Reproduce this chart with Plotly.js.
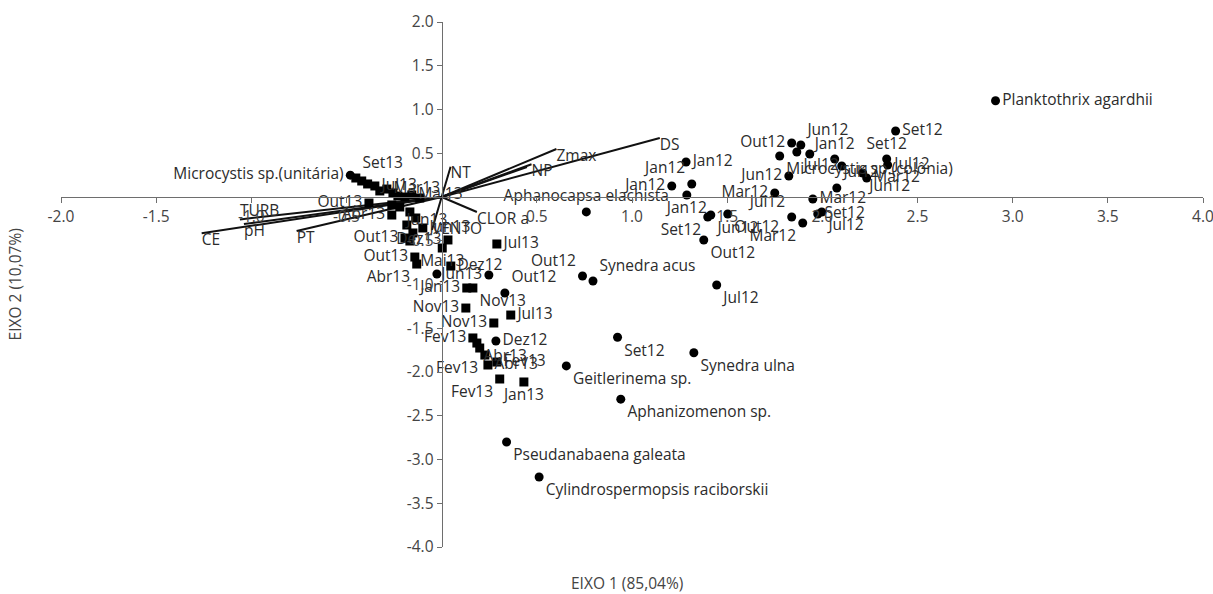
<!DOCTYPE html>
<html>
<head>
<meta charset="utf-8">
<script src="https://cdn.plot.ly/plotly-3.0.1.min.js"></script>
<style>html,body{margin:0;padding:0;background:#fff;}#chart{width:1213px;height:594px;}</style>
</head>
<body>
<div id="chart"></div>
<script>
// ---- Axis ticks ----
const xTickVals = [-2.0,-1.5,-1.0,-0.5,0.5,1.0,1.5,2.0,2.5,3.0,3.5,4.0];
const xTickText = ["-2.0","-1.5","-1.0","-0.5","0.5","1.0","1.5","2.0","2.5","3.0","3.5","4.0"];
const yTickVals = [2.0,1.5,1.0,0.5,-0.5,-1.0,-1.5,-2.0,-2.5,-3.0,-3.5,-4.0];
const yTickText = ["2.0","1.5","1.0","0.5","-0.5","-1.0","-1.5","-2.0","-2.5","-3.0","-3.5","-4.0"];

// ---- Species (circles) ----
const speciesNames = ["Planktothrix agardhii","Microcystis sp.(unitária)","Microcystis sp.(colônia)","Aphanocapsa elachista","Synedra acus","Synedra ulna","Geitlerinema sp.","Aphanizomenon sp.","Pseudanabaena galeata","Cylindrospermopsis raciborskii"];
const speciesX = [2.91,-0.48,1.776,0.76,0.795,1.325,0.655,0.941,0.341,0.512];
const speciesY = [1.10,0.25,0.469,-0.17,-0.96,-1.78,-1.93,-2.31,-2.80,-3.20];
const speciesPos = ["middle right","middle left","bottom right","top center","top right","bottom right","bottom right","bottom right","bottom right","bottom right"];

// ---- Samples 2012 (circles) ----
const s12Labels = ["Set12","Jul12","Out12","Out12","Dez12","Jun13","",
  "Jan12","Jan12","Jan12","Jan12","Set12","Jun12","Out12","Out12",
  "Out12","Jun12","Jul12","","Jun12","Mar12","Jul12","Mar12","Mar12","Set12","Jul12",
  "Jul12","Jan12","","Jun12","Mar12","Set12","Jul12","Set12"];
const s12X = [0.924,1.445,0.332,0.740,0.285,0.248,-0.025,
  1.284,1.209,1.314,1.288,1.398,1.414,1.503,1.377,
  1.839,1.887,1.866,1.934,1.824,1.750,1.839,1.897,1.950,1.976,1.997,
  2.076,2.065,2.102,2.212,2.233,2.338,2.343,2.385];
const s12Y = [-1.603,-1.006,-1.097,-0.903,-1.646,-0.891,-0.880,
  0.400,0.126,0.149,0.023,-0.229,-0.206,-0.194,-0.491,
  0.617,0.594,0.514,0.491,0.240,0.046,-0.229,-0.297,-0.023,-0.194,-0.171,
  0.103,0.434,0.354,0.274,0.217,0.434,0.366,0.754];
const s12Pos = ["bottom right","bottom right","top right","top left","middle right","middle left","middle right",
  "middle right","middle left","top left","bottom center","bottom left","bottom right","bottom right","bottom right",
  "middle left","top right","bottom right","middle right","middle left","middle left","top left","bottom left","middle right","middle right","bottom right",
  "top right","top center","middle right","bottom right","middle right","top center","middle right","middle right"];

// ---- Samples 2013 (squares) ----
const s13Labels = ["Set13","","","Jul13","","Mar13","","","","Mai13","",
  "","Jun13","Out13","Abr13","","","","","Out13","",
  "Jun13","Dez13","Mai13","Out13","Abr13","Dez12",
  "Jul13","Jan13","Nov13","Nov13","Nov13","Jul13",
  "Fev13","Abr13","","Fev13","Abr13","Fev13","Fev13","Jan13"];
const s13X = [-0.451,-0.420,-0.389,-0.351,-0.325,-0.288,-0.256,-0.230,-0.193,-0.157,-0.115,
  -0.262,-0.220,-0.382,-0.262,-0.167,-0.136,-0.183,-0.151,-0.193,-0.167,
  -0.099,0.033,0.003,-0.141,-0.131,0.048,
  0.290,0.132,0.164,0.127,0.274,0.363,
  0.164,0.185,0.200,0.227,0.243,0.290,0.305,0.432];
const s13Y = [0.217,0.183,0.149,0.126,0.069,0.091,0.046,0.011,0.000,0.023,-0.011,
  -0.091,-0.114,-0.069,-0.206,-0.171,-0.240,-0.320,-0.411,-0.469,-0.503,
  -0.354,-0.491,-0.583,-0.686,-0.766,-0.789,
  -0.537,-1.040,-1.040,-1.269,-1.440,-1.349,
  -1.611,-1.669,-1.726,-1.806,-1.920,-1.886,-2.080,-2.114];
const s13Pos = ["top right","middle right","middle right","middle right","middle right","middle right","middle right","middle right","middle right","middle right","middle right",
  "middle right","bottom right","middle left","middle left","middle right","middle right","middle right","middle right","middle left","middle right",
  "middle right","middle left","bottom center","middle left","bottom left","middle right",
  "middle right","middle left","bottom right","middle left","middle left","middle right",
  "middle left","bottom right","middle right","bottom left","middle right","middle right","bottom left","bottom center"];

// ---- Environmental vectors ----
const envNames = ["DS","Zmax","NP","","NT","CLOR a","VENTO","CE","TURB","pH","PT"];
const envX = [1.146,0.603,0.472,0.448,0.047,0.185,-0.051,-1.261,-1.060,-1.039,-0.762];
const envY = [0.674,0.549,0.374,0.343,0.346,-0.171,-0.377,-0.415,-0.256,-0.309,-0.389];
const envPos = ["bottom right","bottom right","bottom right","bottom right","bottom right","bottom right","middle right","bottom right","top right","bottom right","bottom right"];

const FONT = "Open Sans, Noto Sans, sans-serif";
const labelFont = {family: FONT, size: 15.5, color: "#2b2b2b"};
const traces = [];

// vectors
envNames.forEach((n, i) => {
  traces.push({x: [0, envX[i]], y: [0, envY[i]], mode: "lines", type: "scatter",
    line: {color: "#111", width: 2}, hoverinfo: "skip", showlegend: false});
});
traces.push({x: envX, y: envY, text: envNames, mode: "text", type: "scatter",
  textposition: envPos, textfont: labelFont, hoverinfo: "skip", showlegend: false});

// samples 2013
traces.push({x: s13X, y: s13Y, text: s13Labels, mode: "markers+text", type: "scatter",
  marker: {symbol: "square", size: 9, color: "#000"}, textposition: s13Pos,
  textfont: labelFont, showlegend: false});
// samples 2012
traces.push({x: s12X, y: s12Y, text: s12Labels, mode: "markers+text", type: "scatter",
  marker: {symbol: "circle", size: 9, color: "#000"}, textposition: s12Pos,
  textfont: labelFont, showlegend: false});
// species
traces.push({x: speciesX, y: speciesY, text: speciesNames, mode: "markers+text", type: "scatter",
  marker: {symbol: "circle", size: 9, color: "#000"}, textposition: speciesPos,
  textfont: labelFont, showlegend: false});

const axisCommon = {showgrid: false, zeroline: false, showline: true, linecolor: "#6e6e6e", linewidth: 1,
  ticks: "outside", ticklen: 5, tickcolor: "#6e6e6e", tickfont: {family: FONT, size: 15.5, color: "#444"},
  tickmode: "array", fixedrange: true, ticklabeloverflow: "allow"};

const layout = {
  width: 1213, height: 594,
  margin: {l: 61, r: 10, t: 22, b: 47},
  paper_bgcolor: "#fff", plot_bgcolor: "#fff",
  showlegend: false,
  xaxis: Object.assign({}, axisCommon, {range: [-2, 4], tickvals: xTickVals, ticktext: xTickText,
    anchor: "free", position: 2/3, domain: [0, 1]}),
  yaxis: Object.assign({}, axisCommon, {range: [-4, 2], tickvals: yTickVals, ticktext: yTickText,
    anchor: "free", position: 1/3, domain: [0, 1]}),
  annotations: [
    {text: "EIXO 1 (85,04%)", xref: "paper", yref: "paper", x: 0.4956, y: -0.0686,
     xanchor: "center", yanchor: "middle",
     showarrow: false, font: {family: FONT, size: 15.5, color: "#444"}},
    {text: "EIXO 2 (10,07%)", xref: "paper", yref: "paper", x: -0.0403, y: 0.5, textangle: -90,
     xanchor: "center", yanchor: "middle",
     showarrow: false, font: {family: FONT, size: 15.5, color: "#444"}}
  ]
};

Plotly.newPlot("chart", traces, layout, {displayModeBar: false, staticPlot: true});
</script>
</body>
</html>
